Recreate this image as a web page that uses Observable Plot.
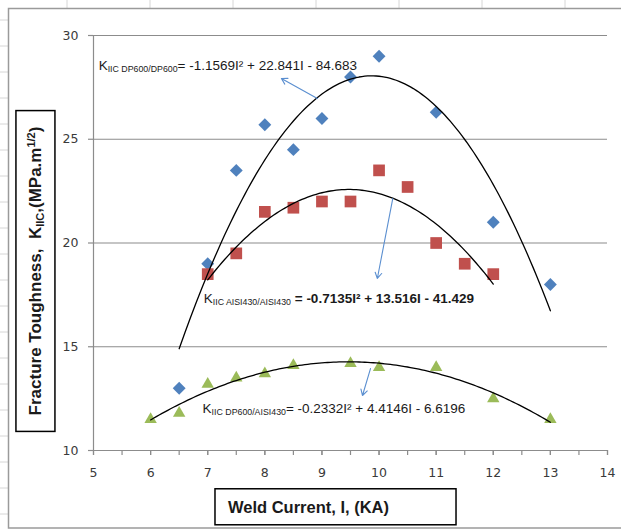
<!DOCTYPE html>
<html><head><meta charset="utf-8">
<script src="https://cdn.jsdelivr.net/npm/d3@7"></script>
<script src="https://cdn.jsdelivr.net/npm/@observablehq/plot@0.6"></script>
<style>
body{margin:0;background:#fff}
#chart{width:621px;height:532px;overflow:hidden}
</style></head><body><div id="chart"></div>
<script>
// ---- data ----
const seriesNames = ["DP600/DP600", "AISI430/AISI430", "DP600/AISI430"];
const dpdpI = [6.5, 7, 7.5, 8, 8.5, 9, 9.5, 10, 11, 12, 13];
const dpdpK = [13.0, 19.0, 23.5, 25.7, 24.5, 26.0, 28.0, 29.0, 26.3, 21.0, 18.0];
const aaI = [7, 7.5, 8, 8.5, 9, 9.5, 10, 10.5, 11, 11.5, 12];
const aaK = [18.5, 19.5, 21.5, 21.7, 22.0, 22.0, 23.5, 22.7, 20.0, 19.0, 18.5];
const daI = [6, 6.5, 7, 7.5, 8, 8.5, 9.5, 10, 11, 12, 13];
const daK = [11.5, 11.8, 13.2, 13.5, 13.7, 14.1, 14.2, 14.0, 14.0, 12.5, 11.5];
// trendline coefficients as printed: K = a I^2 + b I + c
const fitA = [-1.1569, -0.7135, -0.2332];
const fitB = [22.841, 13.516, 4.4146];
const fitC = [-84.683, -41.429, -6.6196];
const xTicks = [5, 6, 7, 8, 9, 10, 11, 12, 13, 14];
const xMinorTicks = [5, 5.5, 6, 6.5, 7, 7.5, 8, 8.5, 9, 9.5, 10, 10.5, 11, 11.5, 12, 12.5, 13, 13.5, 14];
const yTicks = [10, 15, 20, 25, 30];
const xTitle = "Weld Current, I, (KA)";
const yTitleParts = ["Fracture Toughness,  K", "IIC", ",(MPa.m", "1/2", ")"];

// ---- build tables ----
const seriesI = [dpdpI, aaI, daI];
const seriesK = [dpdpK, aaK, daK];
const pts = seriesI.map((xs, s) => xs.map((x, i) => ({I: x, K: seriesK[s][i]})));
const curves = [];
seriesI.forEach((xs, s) => {
  const lo = d3.min(xs), hi = d3.max(xs);
  const n = Math.round((hi - lo) / 0.05);
  for (let j = 0; j <= n; j++) {
    const I = lo + (hi - lo) * j / n;
    curves.push({s, I, K: fitA[s] * I * I + fitB[s] * I + fitC[s]});
  }
});
const eqStrings = [0, 1, 2].map(s =>
  `${fitA[s]}I\u00B2 + ${fitB[s]}I - ${Math.abs(fitC[s])}`);
const eqGap = ["", " ", ""];
const eqPlain = [0, 1, 2].map(s => "K" + "IIC " + seriesNames[s] + eqGap[s] + "= " + eqStrings[s]);

const arrows = [
  {x1: 8.92, y1: 26.96, x2: 8.29, y2: 27.93},
  {x1: 10.24, y1: 22.14, x2: 9.97, y2: 18.29},
  {x1: 9.85, y1: 13.95, x2: 9.71, y2: 12.65}
];

const grid = "#8c8c8c";
const plot = Plot.plot({
  width: 621, height: 532,
  marginLeft: 93, marginRight: 14, marginTop: 35, marginBottom: 82,
  x: {domain: [5, 14], label: null},
  y: {domain: [10, 30], label: null},
  style: {fontFamily: "DejaVu Sans", fontSize: "12.5px", color: "#3a3a3a", background: "transparent", overflow: "visible"},
  marks: [
    Plot.ruleY(yTicks, {stroke: grid, strokeWidth: 1.2}),
    Plot.ruleX([5], {y1: 10, y2: 30, stroke: grid, strokeWidth: 1.2}),
    Plot.axisY({ticks: yTicks, tickSize: 5, tickPadding: 10, stroke: grid, strokeWidth: 1.2}),
    Plot.axisX({ticks: xMinorTicks, tickSize: 5, tickFormat: () => "", stroke: grid, strokeWidth: 1.2}),
    Plot.axisX({ticks: xTicks, tickSize: 5, tickPadding: 13, stroke: grid, strokeWidth: 1.2}),
    Plot.dot(pts[0], {x: "I", y: "K", symbol: "diamond2", r: 5.8, fill: "#4F81BD"}),
    Plot.dot(pts[1], {x: "I", y: "K", symbol: "square", r: 6.6, fill: "#C0504D"}),
    Plot.dot(pts[2], {x: "I", y: "K", symbol: "triangle", r: 4.6, fill: "#9BBB59"}),
    Plot.line(curves, {x: "I", y: "K", z: "s", stroke: "#000", strokeWidth: 1.3, curve: "linear"}),
    Plot.arrow(arrows, {x1: "x1", y1: "y1", x2: "x2", y2: "y2", stroke: "#5b8fd0", strokeWidth: 1.1, headLength: 9, bend: 0}),
    Plot.text([0, 1, 2], {
      x: [5.09, 6.93, 6.91], y: [28.55, 17.33, 12.02],
      text: eqPlain, textAnchor: "start", lineAnchor: "middle",
      fontFamily: "Liberation Sans", fontSize: 13.5, fill: "#1a1a1a", ariaDescription: "equation"
    }),
    Plot.text([xTitle], {
      frameAnchor: "bottom", dx: -42, dy: 57, lineAnchor: "middle", textAnchor: "middle",
      fontFamily: "Liberation Sans", fontSize: 16.5, fontWeight: "bold", fill: "#1a1a1a", ariaDescription: "xtitle"
    }),
    Plot.text([yTitleParts.join("")], {
      frameAnchor: "left", rotate: -90, dx: -58, dy: 28, lineAnchor: "middle", textAnchor: "middle",
      fontFamily: "Liberation Sans", fontSize: 17, fontWeight: "bold", fill: "#1a1a1a", ariaDescription: "ytitle"
    })
  ]
});
document.getElementById("chart").appendChild(plot);

const svg = d3.select(plot);
// rich text: subscripts / superscripts
svg.selectAll('g[aria-description="equation"] text').each(function (_, i) {
  const t = d3.select(this);
  t.text(null);
  t.append("tspan").text("K");
  t.append("tspan").attr("font-size", 8.8).attr("dy", 2).text("IIC " + seriesNames[i]);
  t.append("tspan").attr("dy", -2).attr("font-weight", i === 1 ? "bold" : null).text(eqGap[i] + "= " + eqStrings[i]);
});
svg.selectAll('g[aria-description="ytitle"] text').each(function () {
  const t = d3.select(this);
  t.text(null);
  t.append("tspan").text(yTitleParts[0]);
  t.append("tspan").attr("font-size", 11).attr("dy", 3).text(yTitleParts[1]);
  t.append("tspan").attr("dy", -3).text(yTitleParts[2]);
  t.append("tspan").attr("font-size", 11).attr("dy", -6).text(yTitleParts[3]);
  t.append("tspan").attr("dy", 6).text(yTitleParts[4]);
});

// boxes around the axis titles
const sr = plot.getBoundingClientRect();
function box(sel, padL, padR, padT, padB) {
  const node = svg.select(sel).node();
  if (!node) return;
  const r = node.getBoundingClientRect();
  svg.append("rect")
    .attr("x", r.left - sr.left - padL).attr("y", r.top - sr.top - padT)
    .attr("width", r.width + padL + padR).attr("height", r.height + padT + padB)
    .attr("fill", "none").attr("stroke", "#000").attr("stroke-width", 1.5);
}
box('g[aria-description="xtitle"] text', 13, 67, 9, 9);
box('g[aria-description="ytitle"] text', 9, 9, 16, 16);

// chart-area border and faint sheet cells around it
const deco = svg.insert("g", ":first-child");
for (let x = 67; x < 621; x += 83) deco.append("line").attr("x1", x).attr("x2", x).attr("y1", 0).attr("y2", 8).attr("stroke", "#d6d6d6");
for (let y = 20; y < 532; y += 26) deco.append("line").attr("x1", 0).attr("x2", 8).attr("y1", y).attr("y2", y).attr("stroke", "#d6d6d6");
svg.append("rect").attr("x", 8.5).attr("y", 8.5).attr("width", 640).attr("height", 519.5)
  .attr("fill", "none").attr("stroke", "#9a9a9a").attr("stroke-width", 1.5);
</script></body></html>
